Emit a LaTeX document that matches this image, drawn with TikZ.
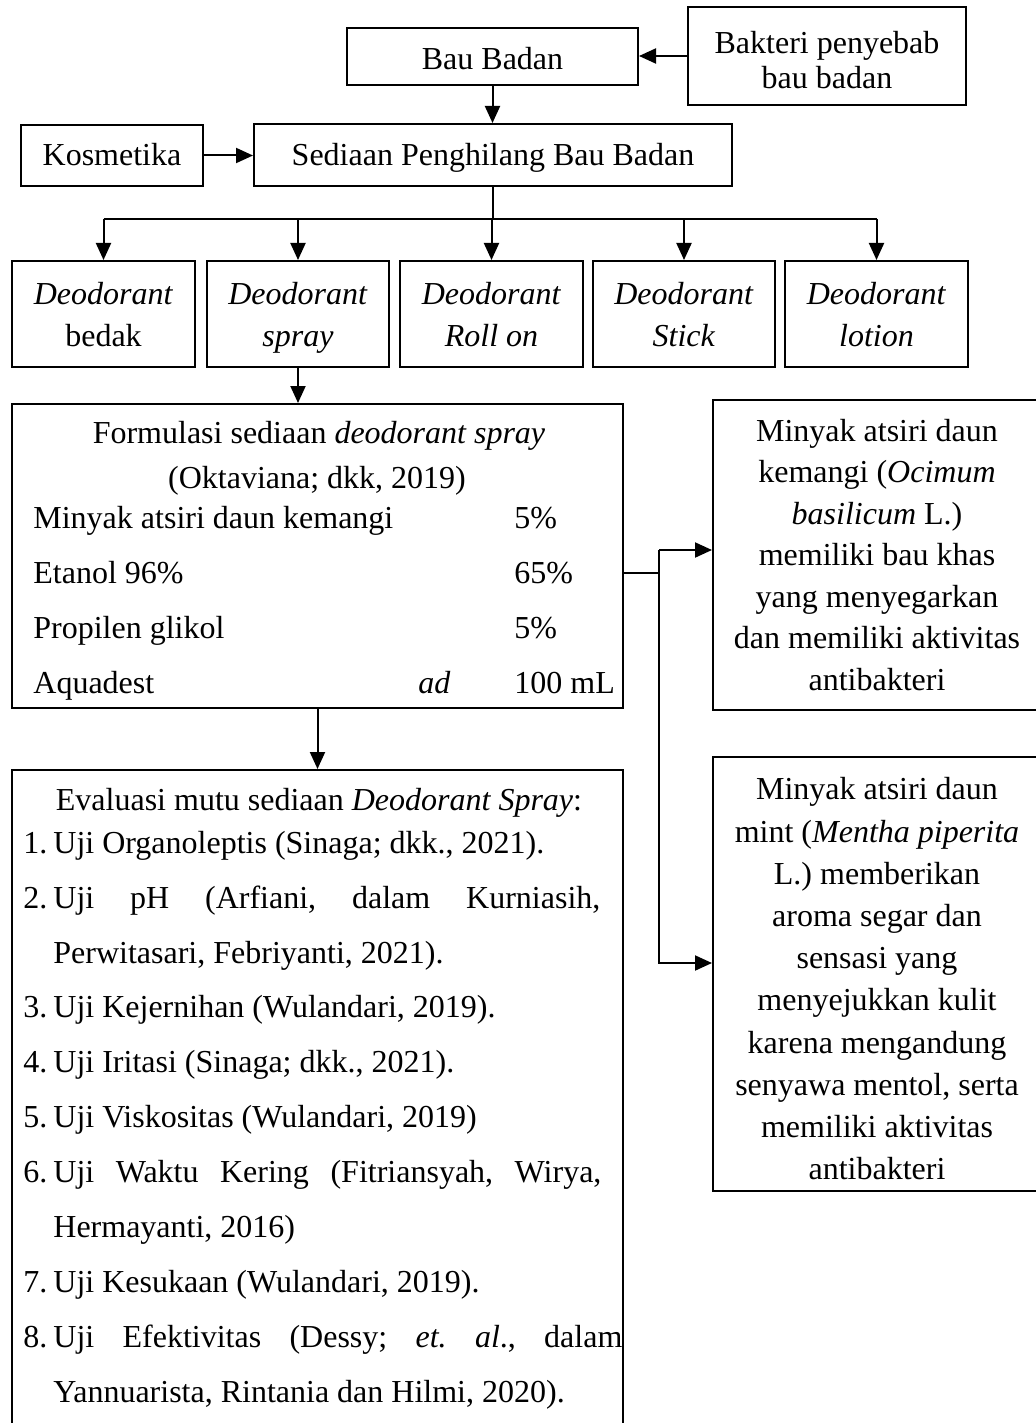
\documentclass[tikz,border=0pt]{standalone}
\usepackage{fontspec}
\setmainfont{Liberation Serif}
\usetikzlibrary{arrows.meta}
\newcommand\myfs[1]{\fontsize{16}{#1}\selectfont}
\newcommand\mystrut[2]{\rule[-#1]{0pt}{#2}}
\tikzset{
  box/.style={draw, line width=1pt, inner sep=0pt, align=center, font=\myfs{21}},
  arr/.style={line width=1pt, -{Triangle[length=8.5pt,width=7.5pt]}},
  ln/.style={line width=1pt},
  txt/.style={inner sep=0pt, anchor=base west, font=\myfs{21}},
  ctxt/.style={inner sep=0pt, anchor=base, font=\myfs{21}},
}
\begin{document}
\begin{tikzpicture}[x=0.5pt,y=-0.5pt]
\useasboundingbox (0,0) rectangle (1036,1423);
\fill[white] (0,0) rectangle (1036,1423);
\clip (0,0) rectangle (1036,1423);

% top
\node[box, minimum width=145.5pt, minimum height=28.5pt] (bau) at (492.5,56.5) {\mystrut{3.5pt}{20.5pt}Bau Badan};
\node[box, minimum width=139pt, minimum height=49pt, font=\myfs{17.5}] (bak) at (827,56) {\rule{0pt}{15pt}Bakteri penyebab\\bau badan};
\node[box, minimum width=91pt, minimum height=30.5pt] (kos) at (112,155.5) {\mystrut{3.5pt}{17.5pt}Kosmetika};
\node[box, minimum width=239pt, minimum height=31pt] (sed) at (493,155) {\mystrut{3.5pt}{18pt}Sediaan Penghilang Bau Badan};

\draw[arr] (bak.west) -- (bak.west -| bau.east);
\draw[arr] (bau.south) -- (bau.south |- sed.north);
\draw[arr] (kos.east) -- (kos.east -| sed.west);

% five types
\node[box, minimum width=91.5pt, minimum height=53pt] (b1) at (103.5,314) {\rule{0pt}{17.7pt}\textit{Deodorant}\\bedak\strut};
\node[box, minimum width=91pt, minimum height=53pt] (b2) at (298,314) {\rule{0pt}{17.7pt}\textit{Deodorant}\\\textit{spray}\strut};
\node[box, minimum width=91.5pt, minimum height=53pt] (b3) at (491.5,314) {\rule{0pt}{17.7pt}\textit{Deodorant}\\\textit{Roll on}\strut};
\node[box, minimum width=91pt, minimum height=53pt] (b4) at (684,314) {\rule{0pt}{17.7pt}\textit{Deodorant}\\\textit{Stick}\strut};
\node[box, minimum width=91.5pt, minimum height=53pt] (b5) at (876.5,314) {\rule{0pt}{17.7pt}\textit{Deodorant}\\\textit{lotion}\strut};

\coordinate (bus) at (493,219);
\draw[ln] (sed.south) -- (bus);
\draw[ln] (b1.north |- bus) -- (b5.north |- bus);
\foreach \b in {b1,b2,b3,b4,b5} {\draw[arr] (\b.north |- bus) -- (\b.north);}

% formulasi
\node[box, minimum width=305.5pt, minimum height=152pt] (form) at (317.5,556) {};
\draw[arr] (b2.south) -- (b2.south |- form.north);
\node[ctxt] (f1) at (319,443) {Formulasi sediaan \textit{deodorant spray}};
\node[ctxt] (f2) at (317,488) {(Oktaviana; dkk, 2019)};
\node[txt] (r1) at (33,528) {Minyak atsiri daun kemangi};
\node[txt] (r1v) at (514,528) {5\%};
\node[txt] (r2) at (33,583) {Etanol 96\%};
\node[txt] (r2v) at (514,583) {65\%};
\node[txt] (r3) at (33,638) {Propilen glikol};
\node[txt] (r3v) at (514,638) {5\%};
\node[txt] (r4) at (33,693) {Aquadest};
\node[txt] (r4a) at (418,693) {\textit{ad}};
\node[txt] (r4v) at (514,693) {100 mL};

% right boxes
\node[box, minimum width=164pt, minimum height=155pt, font=\myfs{20.75}] (kem) at (877,555)
  {Minyak atsiri daun\\kemangi (\textit{Ocimum}\\\textit{basilicum} L.)\\memiliki bau khas\\yang menyegarkan\\dan memiliki aktivitas\\antibakteri};
\node[box, minimum width=164pt, minimum height=217pt, font=\myfs{21.1}] (mint) at (877,974)
  {\rule{0pt}{16pt}Minyak atsiri daun\\mint (\textit{Mentha piperita}\\L.) memberikan\\aroma segar dan\\sensasi yang\\menyejukkan kulit\\karena mengandung\\senyawa mentol, serta\\memiliki aktivitas\\antibakteri};

\coordinate (jm) at (659,573);
\coordinate (jt) at (659,550);
\coordinate (jb) at (659,963);
\draw[ln] (form.east |- jm) -- (jm);
\draw[arr] (jt) -- (kem.west |- jt);
\draw[arr] (jt) -- (jb) -- (mint.west |- jb);

% evaluasi
\node[box, minimum width=305.5pt, minimum height=335pt] (eval) at (317.5,1105) {};
\draw[arr] (form.south) -- (form.south |- eval.north);
\node[ctxt] (e0) at (319,810) {Evaluasi mutu sediaan \textit{Deodorant Spray}:};
\node[txt] (n1) at (23,853) {1.};
\node[txt] (e1) at (53,853) {Uji Organoleptis (Sinaga; dkk., 2021).};
\node[txt] (n2) at (23,908) {2.};
\node[txt] (e2) at (53,908) {\hbox to 273.5pt{Uji\hfill pH\hfill (Arfiani,\hfill dalam\hfill Kurniasih,}};
\node[txt] (e2b) at (53,963) {Perwitasari, Febriyanti, 2021).};
\node[txt] (n3) at (23,1017) {3.};
\node[txt] (e3) at (53,1017) {Uji Kejernihan (Wulandari, 2019).};
\node[txt] (n4) at (23,1072) {4.};
\node[txt] (e4) at (53,1072) {Uji Iritasi (Sinaga; dkk., 2021).};
\node[txt] (n5) at (23,1127) {5.};
\node[txt] (e5) at (53,1127) {Uji Viskositas (Wulandari, 2019)};
\node[txt] (n6) at (23,1182) {6.};
\node[txt] (e6) at (53,1182) {\hbox to 274pt{Uji\hfill Waktu\hfill Kering\hfill (Fitriansyah,\hfill Wirya,}};
\node[txt] (e6b) at (53,1237) {Hermayanti, 2016)};
\node[txt] (n7) at (23,1292) {7.};
\node[txt] (e7) at (53,1292) {Uji Kesukaan (Wulandari, 2019).};
\node[txt] (n8) at (23,1347) {8.};
\node[txt] (e8) at (53,1347) {\hbox to 284.5pt{Uji\hfill Efektivitas\hfill (Dessy;\hfill \textit{et.}\hfill \textit{al}.,\hfill dalam}};
\node[txt] (e8b) at (53,1402) {Yannuarista, Rintania dan Hilmi, 2020).};
\end{tikzpicture}
\end{document}
